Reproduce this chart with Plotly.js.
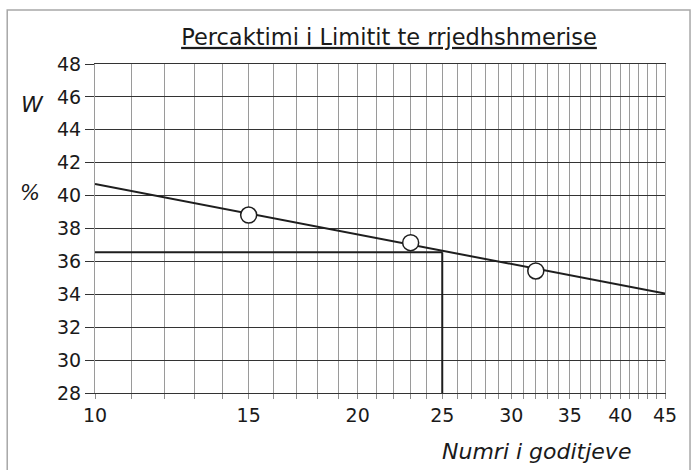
<!DOCTYPE html>
<html>
<head>
<meta charset="utf-8">
<script src="https://cdn.plot.ly/plotly-3.0.1.min.js"></script>
<style>
html,body{margin:0;padding:0;background:#fff;}
#chart{width:692px;height:470px;}
</style>
</head>
<body>
<div id="chart"></div>
<script>
// Data
const blows = [15, 23, 32];
const moisture = [38.82, 37.14, 35.42];
const fitX = [10, 45];
const fitY = [40.7, 34.05];
const llBlows = 25;
const llValue = 36.55;
const yMin = 28, yMax = 48;
const xGridVals = [];
for (let v = 10; v <= 45; v++) xGridVals.push(v);
const xLabelVals = [10, 15, 20, 25, 30, 35, 40, 45];
const xTickText = xGridVals.map(v => xLabelVals.includes(v) ? String(v) : '');
const titleText = 'Percaktimi i Limitit te rrjedhshmerise';
const xTitle = 'Numri i goditjeve';
const yTitleTop = 'W';
const yTitleBottom = '%';

const FONT = 'DejaVu Sans, Liberation Sans, Arial, sans-serif';
const TXT = '#1a1a1a';

const traces = [
  { x: fitX, y: fitY, mode: 'lines', line: {color: '#1e1e1e', width: 2}, hoverinfo: 'skip' },
  { x: [fitX[0], llBlows], y: [llValue, llValue], mode: 'lines', line: {color: '#1e1e1e', width: 2}, hoverinfo: 'skip' },
  { x: [llBlows, llBlows], y: [yMin, llValue], mode: 'lines', line: {color: '#1e1e1e', width: 2}, hoverinfo: 'skip' },
  { x: blows, y: moisture, mode: 'markers', cliponaxis: false,
    marker: {symbol: 'circle', size: 16, color: '#ffffff', line: {color: '#1e1e1e', width: 1.5}} }
];

const layout = {
  width: 692, height: 470,
  margin: {l: 95, r: 27, t: 64, b: 76.5, pad: 0},
  paper_bgcolor: '#ffffff', plot_bgcolor: '#ffffff',
  showlegend: false,
  font: {family: FONT, color: TXT, size: 19},
  title: {
    text: '<span style="text-decoration:underline">' + titleText + '</span>',
    font: {family: FONT, size: 22.5, color: TXT},
    x: 389/692, xanchor: 'center', xref: 'container',
    y: 1 - 37/470, yanchor: 'middle', yref: 'container'
  },
  xaxis: {
    type: 'log', range: [Math.log10(10), Math.log10(45)],
    tickmode: 'array', tickvals: xGridVals, ticktext: xTickText,
    ticks: 'outside', ticklen: 5, tickcolor: '#8c8c8c', tickwidth: 1,
    showgrid: true, gridcolor: '#9a9a9a', gridwidth: 1,
    zeroline: false, showline: true, mirror: true, linecolor: '#333333', linewidth: 1,
    tickfont: {family: FONT, size: 19, color: TXT}
  },
  yaxis: {
    range: [yMin, yMax], tickmode: 'linear', tick0: 28, dtick: 2,
    ticks: 'outside', ticklen: 9, tickcolor: '#333333', tickwidth: 1,
    showgrid: true, gridcolor: '#333333', gridwidth: 1,
    zeroline: false, showline: true, mirror: true, linecolor: '#9a9a9a', linewidth: 1,
    tickfont: {family: FONT, size: 19, color: TXT}
  },
  annotations: [
    {text: '<i>' + yTitleTop + '</i>', xref: 'paper', yref: 'paper', x: -0.1105, y: 0.8756,
     xanchor: 'center', yanchor: 'middle', showarrow: false, font: {family: FONT, size: 22, color: TXT}},
    {text: '<i>' + yTitleBottom + '</i>', xref: 'paper', yref: 'paper', x: -0.114, y: 0.6085,
     xanchor: 'center', yanchor: 'middle', showarrow: false, font: {family: FONT, size: 21, color: TXT}},
    {text: '<i>' + xTitle + '</i>', xref: 'paper', yref: 'paper', x: 0.7754, y: -0.1775,
     xanchor: 'center', yanchor: 'middle', showarrow: false, font: {family: FONT, size: 22, color: TXT}}
  ],
  shapes: [
    {type: 'rect', xref: 'paper', yref: 'paper', x0: -0.154, x1: 1.0439, y0: -0.3, y1: 1.164,
     line: {color: '#a8a8a8', width: 1.5}, fillcolor: 'rgba(0,0,0,0)', layer: 'below'}
  ]
};

Plotly.newPlot('chart', traces, layout, {displayModeBar: false, staticPlot: true});
</script>
</body>
</html>
